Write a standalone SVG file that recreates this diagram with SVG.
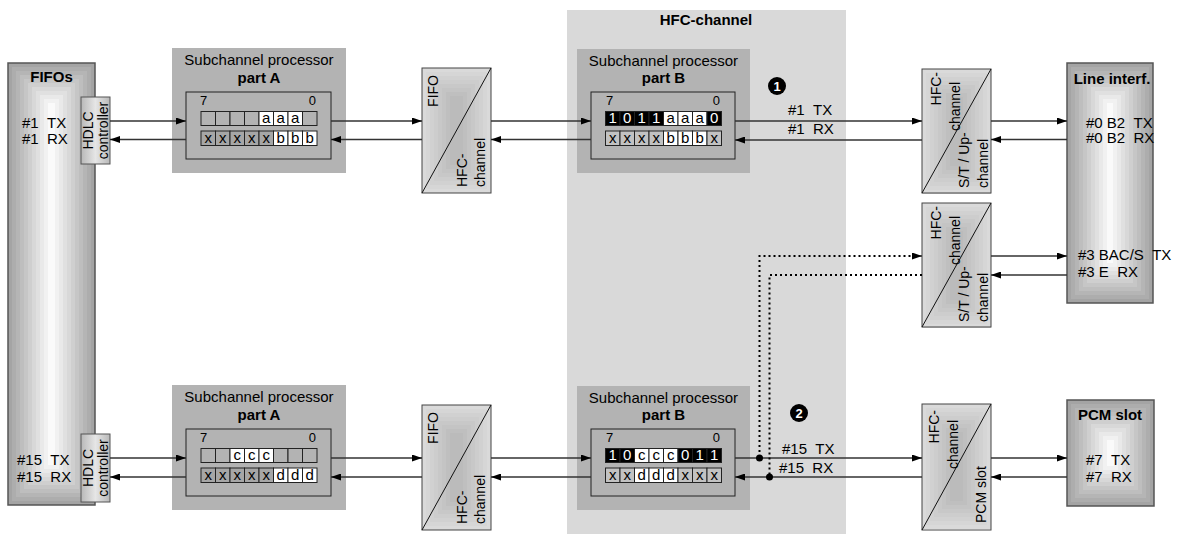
<svg xmlns="http://www.w3.org/2000/svg" xmlns:xlink="http://www.w3.org/1999/xlink" width="1178" height="544" viewBox="0 0 1178 544">
<style>
text { font-family: "Liberation Sans", Arial, sans-serif; font-size: 15px; fill: #000; white-space: pre; }
.b { font-weight: bold; }
.m { text-anchor: middle; }
.e { text-anchor: end; }
.r { font-size: 14px; }
.s { font-size: 13px; }
.cw { fill: #fff; }
.proc { fill: #b3b3b3; }
.inner { fill: #b3b3b3; stroke: #222; stroke-width: 1; }
.cell { stroke: #222; stroke-width: 1; }
.ce { fill: #b3b3b3; }
.cxa { fill: #a6a6a6; }
.cxb { fill: #c2c2c2; }
.cwh { fill: #fff; }
.cbk { fill: #000; }
.frame { fill: none; stroke: #555; stroke-width: 1.5; }
.cframe { fill: none; stroke: #444; stroke-width: 1; }
.diag { stroke: #111; stroke-width: 1; }
.ln { stroke: #333; stroke-width: 1.4; fill: none; }
.dt { stroke: #000; stroke-width: 2; stroke-dasharray: 2 3; fill: none; }
</style>
<defs>
<marker id="ah" markerUnits="userSpaceOnUse" markerWidth="10" markerHeight="7" refX="10" refY="3.5" orient="auto">
<path d="M0,0 L10,3.5 L0,7 z" fill="#000"/>
</marker>
<g id="convbg">
<rect x="0" y="0" width="69" height="125" fill="#dadada"/>
<rect x="4" y="4" width="61" height="117" fill="#d6d6d6"/>
<rect x="8" y="8" width="53" height="109" fill="#d1d1d1"/>
<rect x="12" y="12" width="45" height="101" fill="#cdcdcd"/>
<rect x="16" y="16" width="37" height="93" fill="#c8c8c8"/>
<rect x="20" y="20" width="29" height="85" fill="#c4c4c4"/>
<rect x="24" y="24" width="21" height="77" fill="#bfbfbf"/>
<rect x="28" y="28" width="13" height="69" fill="#bbbbbb"/>
</g>
<linearGradient id="hdlc" x1="0" y1="0" x2="1" y2="0">
<stop offset="0" stop-color="#b8b8b8"/>
<stop offset="0.5" stop-color="#e6e6e6"/>
<stop offset="1" stop-color="#b8b8b8"/>
</linearGradient>
</defs>

<g id="hfc-region">
<rect x="567" y="10" width="279" height="524" fill="#d9d9d9"/>
<text class="b m" x="706" y="25">HFC-channel</text>
</g>

<g id="fifos">
<rect x="8" y="63" width="87" height="442" fill="#a4a4a4"/>
<rect x="12" y="67" width="79" height="434" fill="#adadad"/>
<rect x="16" y="71" width="71" height="426" fill="#b5b5b5"/>
<rect x="20" y="75" width="63" height="418" fill="#bebebe"/>
<rect x="24" y="79" width="55" height="410" fill="#c6c6c6"/>
<rect x="28" y="83" width="47" height="402" fill="#cfcfcf"/>
<rect x="32" y="87" width="39" height="394" fill="#d8d8d8"/>
<rect x="36" y="91" width="31" height="386" fill="#e0e0e0"/>
<rect x="40" y="95" width="23" height="378" fill="#e9e9e9"/>
<rect x="44" y="99" width="15" height="370" fill="#f1f1f1"/>
<rect x="48" y="103" width="7" height="362" fill="#fafafa"/>
<rect class="frame" x="8" y="63" width="87" height="442"/>
<text class="b m" x="51.5" y="82">FIFOs</text>
<text x="22" y="128">#1 &#160;TX</text>
<text x="22" y="144">#1 &#160;RX</text>
<text x="17" y="465">#15 &#160;TX</text>
<text x="17" y="482">#15 &#160;RX</text>
</g>

<g id="hdlc1">
<rect x="81" y="97" width="29" height="67" fill="url(#hdlc)" stroke="#555" stroke-width="1"/>
<text class="r m" transform="translate(93,130.5) rotate(-90)">HDLC</text>
<text class="r m" transform="translate(108,130.5) rotate(-90)">controller</text>
</g>
<g id="hdlc15">
<rect x="81" y="434" width="29" height="68" fill="url(#hdlc)" stroke="#555" stroke-width="1"/>
<text class="r m" transform="translate(93,468) rotate(-90)">HDLC</text>
<text class="r m" transform="translate(108,468) rotate(-90)">controller</text>
</g>

<g id="procA1">
<rect class="proc" x="172" y="48" width="174" height="125"/>
<text class="m" x="259" y="65">Subchannel processor</text>
<text class="b m" x="259" y="83">part A</text>
<rect class="inner" x="186" y="92" width="145" height="67"/>
<text class="s" x="200" y="105">7</text>
<text class="s e" x="316" y="105">0</text>
<g class="cell">
<rect class="ce" x="201" y="111.5" width="14.5" height="14"/>
<rect class="ce" x="215.5" y="111.5" width="14.5" height="14"/>
<rect class="ce" x="230" y="111.5" width="14.5" height="14"/>
<rect class="ce" x="244.5" y="111.5" width="14.5" height="14"/>
<rect class="cwh" x="259" y="111.5" width="14.5" height="14"/>
<rect class="cwh" x="273.5" y="111.5" width="14.5" height="14"/>
<rect class="cwh" x="288" y="111.5" width="14.5" height="14"/>
<rect class="ce" x="302.5" y="111.5" width="14.5" height="14"/>
<rect class="cxa" x="201" y="131" width="14.5" height="14.5"/>
<rect class="cxa" x="215.5" y="131" width="14.5" height="14.5"/>
<rect class="cxa" x="230" y="131" width="14.5" height="14.5"/>
<rect class="cxa" x="244.5" y="131" width="14.5" height="14.5"/>
<rect class="cxa" x="259" y="131" width="14.5" height="14.5"/>
<rect class="cwh" x="273.5" y="131" width="14.5" height="14.5"/>
<rect class="cwh" x="288" y="131" width="14.5" height="14.5"/>
<rect class="cwh" x="302.5" y="131" width="14.5" height="14.5"/>
</g>
<g class="s m">
<text x="266.2" y="122.5">a</text><text x="280.7" y="122.5">a</text><text x="295.2" y="122.5">a</text>
<text x="208.2" y="142.5">x</text><text x="222.7" y="142.5">x</text><text x="237.2" y="142.5">x</text><text x="251.7" y="142.5">x</text><text x="266.2" y="142.5">x</text>
<text x="280.7" y="142.5">b</text><text x="295.2" y="142.5">b</text><text x="309.7" y="142.5">b</text>
</g>
</g>

<g id="procA15">
<rect class="proc" x="172" y="385" width="174" height="125"/>
<text class="m" x="259" y="402">Subchannel processor</text>
<text class="b m" x="259" y="420">part A</text>
<rect class="inner" x="186" y="429" width="145" height="67"/>
<text class="s" x="200" y="442">7</text>
<text class="s e" x="316" y="442">0</text>
<g class="cell">
<rect class="ce" x="201" y="448.5" width="14.5" height="14"/>
<rect class="ce" x="215.5" y="448.5" width="14.5" height="14"/>
<rect class="cwh" x="230" y="448.5" width="14.5" height="14"/>
<rect class="cwh" x="244.5" y="448.5" width="14.5" height="14"/>
<rect class="cwh" x="259" y="448.5" width="14.5" height="14"/>
<rect class="ce" x="273.5" y="448.5" width="14.5" height="14"/>
<rect class="ce" x="288" y="448.5" width="14.5" height="14"/>
<rect class="ce" x="302.5" y="448.5" width="14.5" height="14"/>
<rect class="cxa" x="201" y="468" width="14.5" height="14.5"/>
<rect class="cxa" x="215.5" y="468" width="14.5" height="14.5"/>
<rect class="cxa" x="230" y="468" width="14.5" height="14.5"/>
<rect class="cxa" x="244.5" y="468" width="14.5" height="14.5"/>
<rect class="cxa" x="259" y="468" width="14.5" height="14.5"/>
<rect class="cwh" x="273.5" y="468" width="14.5" height="14.5"/>
<rect class="cwh" x="288" y="468" width="14.5" height="14.5"/>
<rect class="cwh" x="302.5" y="468" width="14.5" height="14.5"/>
</g>
<g class="s m">
<text x="237.2" y="459.5">c</text><text x="251.7" y="459.5">c</text><text x="266.2" y="459.5">c</text>
<text x="208.2" y="479.5">x</text><text x="222.7" y="479.5">x</text><text x="237.2" y="479.5">x</text><text x="251.7" y="479.5">x</text><text x="266.2" y="479.5">x</text>
<text x="280.7" y="479.5">d</text><text x="295.2" y="479.5">d</text><text x="309.7" y="479.5">d</text>
</g>
</g>

<g id="fifo-conv1">
<use xlink:href="#convbg" x="422" y="68"/>
<rect class="cframe" x="422" y="68" width="69" height="125"/>
<line class="diag" x1="422" y1="193" x2="491" y2="68"/>
<text class="r e" transform="translate(438,75) rotate(-90)">FIFO</text>
<text class="r" transform="translate(467,187) rotate(-90)">HFC-</text>
<text class="r" transform="translate(485,187) rotate(-90)">channel</text>
</g>
<g id="fifo-conv15">
<use xlink:href="#convbg" x="422" y="405"/>
<rect class="cframe" x="422" y="405" width="69" height="125"/>
<line class="diag" x1="422" y1="530" x2="491" y2="405"/>
<text class="r e" transform="translate(438,412) rotate(-90)">FIFO</text>
<text class="r" transform="translate(467,524) rotate(-90)">HFC-</text>
<text class="r" transform="translate(485,524) rotate(-90)">channel</text>
</g>

<g id="procB1">
<rect class="proc" x="577" y="49" width="173" height="124"/>
<text class="m" x="663.5" y="66">Subchannel processor</text>
<text class="b m" x="663.5" y="83">part B</text>
<rect class="inner" x="591" y="92" width="144" height="67"/>
<text class="s" x="606" y="105">7</text>
<text class="s e" x="720" y="105">0</text>
<g class="cell">
<rect class="cbk" x="605.5" y="111.5" width="14.5" height="14"/>
<rect class="cbk" x="620" y="111.5" width="14.5" height="14"/>
<rect class="cbk" x="634.5" y="111.5" width="14.5" height="14"/>
<rect class="cbk" x="649" y="111.5" width="14.5" height="14"/>
<rect class="cwh" x="663.5" y="111.5" width="14.5" height="14"/>
<rect class="cwh" x="678" y="111.5" width="14.5" height="14"/>
<rect class="cwh" x="692.5" y="111.5" width="14.5" height="14"/>
<rect class="cbk" x="707" y="111.5" width="14.5" height="14"/>
<rect class="cxb" x="605.5" y="131" width="14.5" height="14.5"/>
<rect class="cxb" x="620" y="131" width="14.5" height="14.5"/>
<rect class="cxb" x="634.5" y="131" width="14.5" height="14.5"/>
<rect class="cxb" x="649" y="131" width="14.5" height="14.5"/>
<rect class="cwh" x="663.5" y="131" width="14.5" height="14.5"/>
<rect class="cwh" x="678" y="131" width="14.5" height="14.5"/>
<rect class="cwh" x="692.5" y="131" width="14.5" height="14.5"/>
<rect class="cxb" x="707" y="131" width="14.5" height="14.5"/>
</g>
<g class="s m">
<text class="cw" x="612.7" y="122.5">1</text><text class="cw" x="627.2" y="122.5">0</text><text class="cw" x="641.7" y="122.5">1</text><text class="cw" x="656.2" y="122.5">1</text>
<text x="670.7" y="122.5">a</text><text x="685.2" y="122.5">a</text><text x="699.7" y="122.5">a</text><text class="cw" x="714.2" y="122.5">0</text>
<text x="612.7" y="142.5">x</text><text x="627.2" y="142.5">x</text><text x="641.7" y="142.5">x</text><text x="656.2" y="142.5">x</text>
<text x="670.7" y="142.5">b</text><text x="685.2" y="142.5">b</text><text x="699.7" y="142.5">b</text><text x="714.2" y="142.5">x</text>
</g>
</g>

<g id="procB15">
<rect class="proc" x="577" y="386" width="173" height="124"/>
<text class="m" x="663.5" y="403">Subchannel processor</text>
<text class="b m" x="663.5" y="420">part B</text>
<rect class="inner" x="591" y="429" width="144" height="67"/>
<text class="s" x="606" y="442">7</text>
<text class="s e" x="720" y="442">0</text>
<g class="cell">
<rect class="cbk" x="605.5" y="448.5" width="14.5" height="14"/>
<rect class="cbk" x="620" y="448.5" width="14.5" height="14"/>
<rect class="cwh" x="634.5" y="448.5" width="14.5" height="14"/>
<rect class="cwh" x="649" y="448.5" width="14.5" height="14"/>
<rect class="cwh" x="663.5" y="448.5" width="14.5" height="14"/>
<rect class="cbk" x="678" y="448.5" width="14.5" height="14"/>
<rect class="cbk" x="692.5" y="448.5" width="14.5" height="14"/>
<rect class="cbk" x="707" y="448.5" width="14.5" height="14"/>
<rect class="cxb" x="605.5" y="468" width="14.5" height="14.5"/>
<rect class="cxb" x="620" y="468" width="14.5" height="14.5"/>
<rect class="cwh" x="634.5" y="468" width="14.5" height="14.5"/>
<rect class="cwh" x="649" y="468" width="14.5" height="14.5"/>
<rect class="cwh" x="663.5" y="468" width="14.5" height="14.5"/>
<rect class="cxb" x="678" y="468" width="14.5" height="14.5"/>
<rect class="cxb" x="692.5" y="468" width="14.5" height="14.5"/>
<rect class="cxb" x="707" y="468" width="14.5" height="14.5"/>
</g>
<g class="s m">
<text class="cw" x="612.7" y="459.5">1</text><text class="cw" x="627.2" y="459.5">0</text>
<text x="641.7" y="459.5">c</text><text x="656.2" y="459.5">c</text><text x="670.7" y="459.5">c</text>
<text class="cw" x="685.2" y="459.5">0</text><text class="cw" x="699.7" y="459.5">1</text><text class="cw" x="714.2" y="459.5">1</text>
<text x="612.7" y="479.5">x</text><text x="627.2" y="479.5">x</text>
<text x="641.7" y="479.5">d</text><text x="656.2" y="479.5">d</text><text x="670.7" y="479.5">d</text>
<text x="685.2" y="479.5">x</text><text x="699.7" y="479.5">x</text><text x="714.2" y="479.5">x</text>
</g>
</g>

<g id="st-conv1">
<use xlink:href="#convbg" x="922" y="69"/>
<rect class="cframe" x="922" y="69" width="69" height="124"/>
<line class="diag" x1="922" y1="193" x2="991" y2="69"/>
<text class="r e" transform="translate(941,72) rotate(-90)">HFC-</text>
<text class="r e" transform="translate(960,82) rotate(-90)">channel</text>
<text class="r" transform="translate(969,188) rotate(-90)">S/T / Up-</text>
<text class="r" transform="translate(988,188) rotate(-90)">channel</text>
</g>
<g id="st-conv3">
<use xlink:href="#convbg" x="922" y="203"/>
<rect class="cframe" x="922" y="203" width="69" height="124"/>
<line class="diag" x1="922" y1="327" x2="991" y2="203"/>
<text class="r e" transform="translate(941,206) rotate(-90)">HFC-</text>
<text class="r e" transform="translate(960,216) rotate(-90)">channel</text>
<text class="r" transform="translate(969,322) rotate(-90)">S/T / Up-</text>
<text class="r" transform="translate(988,322) rotate(-90)">channel</text>
</g>
<g id="pcm-conv">
<use xlink:href="#convbg" x="922" y="404"/>
<rect class="cframe" x="922" y="404" width="69" height="126"/>
<line class="diag" x1="922" y1="530" x2="991" y2="404"/>
<text class="r e" transform="translate(939,410) rotate(-90)">HFC-</text>
<text class="r e" transform="translate(958,420) rotate(-90)">channel</text>
<text class="r" transform="translate(986,523) rotate(-90)">PCM slot</text>
</g>

<g id="line-interf">
<rect x="1067" y="63" width="86" height="240" fill="#a4a4a4"/>
<rect x="1071" y="67" width="78" height="232" fill="#adadad"/>
<rect x="1075" y="71" width="70" height="224" fill="#b5b5b5"/>
<rect x="1079" y="75" width="62" height="216" fill="#bebebe"/>
<rect x="1083" y="79" width="54" height="208" fill="#c6c6c6"/>
<rect x="1087" y="83" width="46" height="200" fill="#cfcfcf"/>
<rect x="1091" y="87" width="38" height="192" fill="#d8d8d8"/>
<rect x="1095" y="91" width="30" height="184" fill="#e0e0e0"/>
<rect x="1099" y="95" width="22" height="176" fill="#e9e9e9"/>
<rect x="1103" y="99" width="14" height="168" fill="#f1f1f1"/>
<rect x="1107" y="103" width="6" height="160" fill="#fafafa"/>
<rect class="frame" x="1067" y="63" width="86" height="240"/>
<text class="b m" x="1112" y="84">Line interf.</text>
<text x="1086" y="128">#0 B2 &#160;TX</text>
<text x="1086" y="143">#0 B2 &#160;RX</text>
<text x="1078" y="260">#3 BAC/S &#160;TX</text>
<text x="1078" y="277">#3 E &#160;RX</text>
</g>

<g id="pcm-slot">
<rect x="1067" y="400" width="87" height="106" fill="#a4a4a4"/>
<rect x="1071" y="404" width="79" height="98" fill="#adadad"/>
<rect x="1075" y="408" width="71" height="90" fill="#b5b5b5"/>
<rect x="1079" y="412" width="63" height="82" fill="#bebebe"/>
<rect x="1083" y="416" width="55" height="74" fill="#c6c6c6"/>
<rect x="1087" y="420" width="47" height="66" fill="#cfcfcf"/>
<rect x="1091" y="424" width="39" height="58" fill="#d8d8d8"/>
<rect x="1095" y="428" width="31" height="50" fill="#e0e0e0"/>
<rect x="1099" y="432" width="23" height="42" fill="#e9e9e9"/>
<rect x="1103" y="436" width="15" height="34" fill="#f1f1f1"/>
<rect x="1107" y="440" width="7" height="26" fill="#fafafa"/>
<rect class="frame" x="1067" y="400" width="87" height="106"/>
<text class="b m" x="1110" y="420">PCM slot</text>
<text x="1086" y="465">#7 &#160;TX</text>
<text x="1086" y="482">#7 &#160;RX</text>
</g>

<g id="badge1">
<circle cx="777" cy="86" r="9" fill="#000"/>
<text class="b m s cw" x="777" y="91">1</text>
</g>
<g id="badge2">
<circle cx="799" cy="413" r="9" fill="#000"/>
<text class="b m s cw" x="799" y="418">2</text>
</g>

<g id="connectors">
<line class="ln" x1="110" y1="121" x2="186" y2="121" marker-end="url(#ah)"/>
<line class="ln" x1="186" y1="139.5" x2="110" y2="139.5" marker-end="url(#ah)"/>
<line class="ln" x1="331" y1="121" x2="422" y2="121" marker-end="url(#ah)"/>
<line class="ln" x1="422" y1="139.5" x2="331" y2="139.5" marker-end="url(#ah)"/>
<line class="ln" x1="491" y1="121" x2="591" y2="121" marker-end="url(#ah)"/>
<line class="ln" x1="591" y1="139.5" x2="491" y2="139.5" marker-end="url(#ah)"/>
<line class="ln" x1="735" y1="121" x2="922" y2="121" marker-end="url(#ah)"/>
<line class="ln" x1="922" y1="140" x2="735" y2="140" marker-end="url(#ah)"/>
<line class="ln" x1="991" y1="121" x2="1067" y2="121" marker-end="url(#ah)"/>
<line class="ln" x1="1067" y1="139.5" x2="991" y2="139.5" marker-end="url(#ah)"/>
<line class="ln" x1="991" y1="256" x2="1067" y2="256" marker-end="url(#ah)"/>
<line class="ln" x1="1067" y1="275" x2="991" y2="275" marker-end="url(#ah)"/>

<line class="ln" x1="110" y1="458" x2="186" y2="458" marker-end="url(#ah)"/>
<line class="ln" x1="186" y1="477" x2="110" y2="477" marker-end="url(#ah)"/>
<line class="ln" x1="331" y1="458" x2="422" y2="458" marker-end="url(#ah)"/>
<line class="ln" x1="422" y1="477" x2="331" y2="477" marker-end="url(#ah)"/>
<line class="ln" x1="491" y1="458" x2="591" y2="458" marker-end="url(#ah)"/>
<line class="ln" x1="591" y1="477" x2="491" y2="477" marker-end="url(#ah)"/>
<line class="ln" x1="735" y1="458" x2="922" y2="458" marker-end="url(#ah)"/>
<line class="ln" x1="922" y1="477" x2="735" y2="477" marker-end="url(#ah)"/>
<line class="ln" x1="991" y1="458" x2="1067" y2="458" marker-end="url(#ah)"/>
<line class="ln" x1="1067" y1="477" x2="991" y2="477" marker-end="url(#ah)"/>

<path class="dt" d="M759.5,457 V256 H912"/>
<line class="ln" x1="912" y1="256" x2="922" y2="256" marker-end="url(#ah)"/>
<path class="dt" d="M922,275 H769.5 V477"/>
<circle cx="759.5" cy="458" r="3.5" fill="#000"/>
<circle cx="769.5" cy="477" r="3.5" fill="#000"/>

<text x="788" y="115">#1 &#160;TX</text>
<text x="788" y="134">#1 &#160;RX</text>
<text x="782" y="454">#15 &#160;TX</text>
<text x="779" y="473">#15 &#160;RX</text>
</g>
</svg>
